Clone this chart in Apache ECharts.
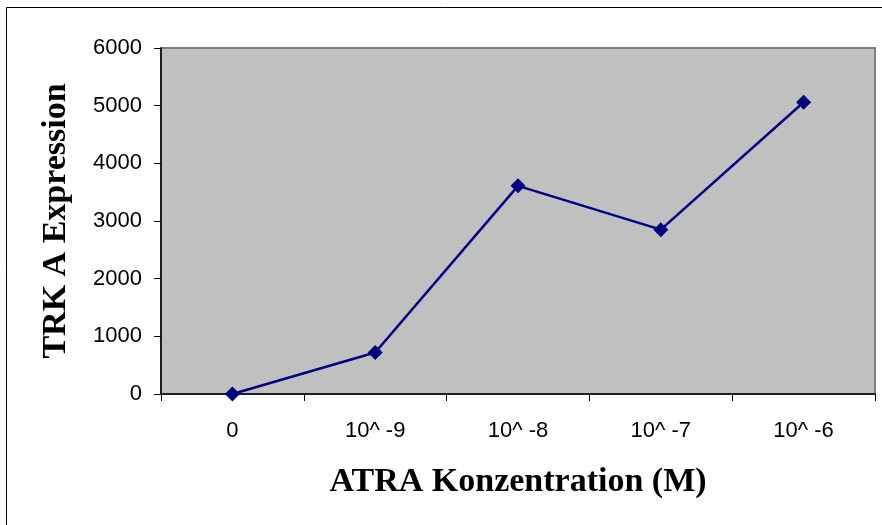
<!DOCTYPE html>
<html>
<head>
<meta charset="utf-8">
<script src="https://cdn.jsdelivr.net/npm/echarts@6/dist/echarts.min.js"></script>
<style>
  html, body { margin: 0; padding: 0; background: #ffffff; }
  #chart { width: 882px; height: 525px; }
</style>
</head>
<body>
<div id="chart"></div>
<script>
// ATRA concentration steps and measured TRK A expression
const concentrations = ['0', '10^ -9', '10^ -8', '10^ -7', '10^ -6'];
const trkAExpression = [0, 720, 3610, 2850, 5060];
const yTicks = { min: 0, max: 6000, interval: 1000 };

const chart = echarts.init(document.getElementById('chart'));

chart.setOption({
  animation: false,
  backgroundColor: '#ffffff',
  graphic: [{
    type: 'rect',
    shape: { x: 6.5, y: 7.5, width: 900, height: 600 },
    style: { fill: 'none', stroke: '#000000', lineWidth: 1 },
    silent: true
  }],
  grid: {
    left: 161, top: 48, right: 7, bottom: 131,
    show: true,
    backgroundColor: '#C0C0C0',
    borderColor: '#808080',
    borderWidth: 2
  },
  xAxis: {
    type: 'category',
    data: concentrations,
    boundaryGap: true,
    name: 'ATRA Konzentration (M)',
    nameLocation: 'middle',
    nameGap: 71,
    nameTextStyle: {
      fontFamily: 'Liberation Serif',
      fontWeight: 'bold',
      fontSize: 34,
      color: '#000000'
    },
    axisLine: { lineStyle: { color: '#000000', width: 1.5 } },
    axisTick: { show: true, inside: false, length: 7, lineStyle: { color: '#000000' } },
    axisLabel: {
      margin: 26,
      fontFamily: 'Liberation Sans',
      fontSize: 22,
      color: '#000000'
    },
    splitLine: { show: false }
  },
  yAxis: {
    type: 'value',
    min: yTicks.min,
    max: yTicks.max,
    interval: yTicks.interval,
    name: 'TRK A Expression',
    nameLocation: 'middle',
    nameGap: 88,
    nameTextStyle: {
      fontFamily: 'Liberation Serif',
      fontWeight: 'bold',
      fontSize: 34,
      color: '#000000'
    },
    axisLine: { show: true, lineStyle: { color: '#000000', width: 1.5 } },
    axisTick: { show: true, inside: false, length: 7, lineStyle: { color: '#000000' } },
    axisLabel: {
      margin: 19,
      fontFamily: 'Liberation Sans',
      fontSize: 22,
      color: '#000000',
      formatter: (v) => String(v)
    },
    splitLine: { show: false }
  },
  series: [{
    type: 'line',
    data: trkAExpression,
    symbol: 'diamond',
    symbolSize: 15,
    showAllSymbol: true,
    lineStyle: { color: '#000080', width: 2.5 },
    itemStyle: { color: '#000080' }
  }]
});
</script>
</body>
</html>
